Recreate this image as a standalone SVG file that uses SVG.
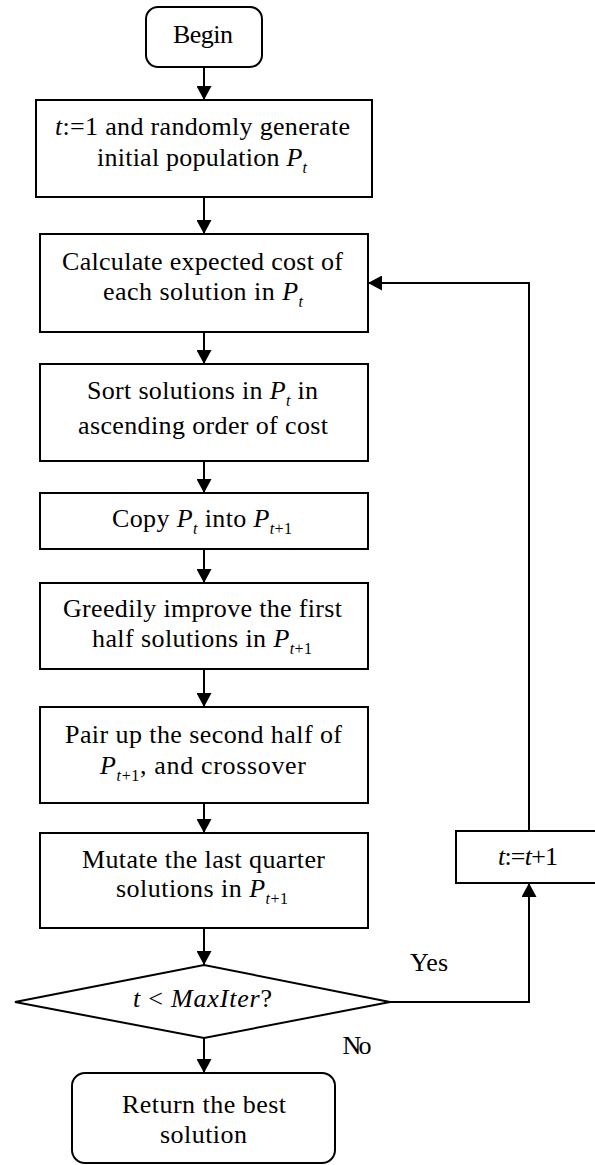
<svg xmlns="http://www.w3.org/2000/svg" width="595" height="1165" viewBox="0 0 595 1165">
  <style>
    .box { fill: #ffffff; stroke: #000000; stroke-width: 2; }
    .line { fill: none; stroke: #000000; stroke-width: 2; }
    text { font-family: "Liberation Serif", "Times New Roman", serif; font-size: 26px; fill: #000000; }
    .c { text-anchor: middle; }
    .i { font-style: italic; }
    .sub { font-size: 16px; }
  </style>
  <defs>
    <marker id="arrow" markerUnits="userSpaceOnUse" markerWidth="15" markerHeight="15" refX="14" refY="7.5" orient="auto">
      <path d="M0,0 L14,7.5 L0,15 z" fill="#000000"/>
    </marker>
  </defs>

  <rect width="595" height="1165" fill="#ffffff"/>

  <!-- connectors -->
  <g id="connectors">
    <path class="line" d="M204,67 V100" marker-end="url(#arrow)"/>
    <path class="line" d="M204,197 V234" marker-end="url(#arrow)"/>
    <path class="line" d="M204,332 V364" marker-end="url(#arrow)"/>
    <path class="line" d="M204,461 V493" marker-end="url(#arrow)"/>
    <path class="line" d="M204,549 V583" marker-end="url(#arrow)"/>
    <path class="line" d="M204,669 V707" marker-end="url(#arrow)"/>
    <path class="line" d="M204,803 V833" marker-end="url(#arrow)"/>
    <path class="line" d="M204,928 V965" marker-end="url(#arrow)"/>
    <path class="line" d="M204,1038 V1073" marker-end="url(#arrow)"/>
    <path class="line" d="M390,1002 H529 V883" marker-end="url(#arrow)"/>
    <path class="line" d="M529,831 V283 H368" marker-end="url(#arrow)"/>
    <text x="429" y="971" class="c" textLength="38">Yes</text>
    <text x="357" y="1054" class="c" textLength="29">No</text>
  </g>

  <!-- start -->
  <g id="begin">
    <rect class="box" x="146" y="7" width="116" height="60" rx="12"/>
    <text x="203" y="43" class="c" textLength="60">Begin</text>
  </g>

  <g id="init">
    <rect class="box" x="36" y="100" width="336" height="97"/>
    <text x="202.5" y="135" class="c" textLength="295"><tspan class="i">t</tspan>:=1 and randomly generate</text>
    <text x="202" y="166" class="c" textLength="210">initial population <tspan class="i">P</tspan><tspan class="i sub" dy="7">t</tspan></text>
  </g>

  <g id="evaluate">
    <rect class="box" x="40" y="234" width="328" height="98"/>
    <text x="202.5" y="270" class="c" textLength="281">Calculate expected cost of</text>
    <text x="203" y="300" class="c" textLength="200">each solution in <tspan class="i">P</tspan><tspan class="i sub" dy="7">t</tspan></text>
  </g>

  <g id="sort">
    <rect class="box" x="40" y="364" width="328" height="97"/>
    <text x="202.5" y="399" class="c" textLength="231">Sort solutions in <tspan class="i">P</tspan><tspan class="i sub" dy="7">t</tspan><tspan dy="-7"> in</tspan></text>
    <text x="203" y="434" class="c" textLength="250">ascending order of cost</text>
  </g>

  <g id="copy">
    <rect class="box" x="40" y="493" width="328" height="56"/>
    <text x="202" y="527" class="c" textLength="180">Copy <tspan class="i">P</tspan><tspan class="i sub" dy="7">t</tspan><tspan dy="-7"> into </tspan><tspan class="i">P</tspan><tspan class="sub" dy="7"><tspan class="i">t</tspan>+1</tspan></text>
  </g>

  <g id="improve">
    <rect class="box" x="40" y="583" width="328" height="86"/>
    <text x="202.5" y="617" class="c" textLength="279">Greedily improve the first</text>
    <text x="202" y="647" class="c" textLength="220">half solutions in <tspan class="i">P</tspan><tspan class="sub" dy="7"><tspan class="i">t</tspan>+1</tspan></text>
  </g>

  <g id="crossover">
    <rect class="box" x="40" y="707" width="328" height="96"/>
    <text x="203.5" y="743" class="c" textLength="277">Pair up the second half of</text>
    <text x="203" y="774" class="c" textLength="206"><tspan class="i">P</tspan><tspan class="sub" dy="7"><tspan class="i">t</tspan>+1</tspan><tspan dy="-7">, and crossover</tspan></text>
  </g>

  <g id="mutate">
    <rect class="box" x="40" y="833" width="328" height="95"/>
    <text x="203.5" y="868" class="c" textLength="243">Mutate the last quarter</text>
    <text x="202" y="897" class="c" textLength="172">solutions in <tspan class="i">P</tspan><tspan class="sub" dy="7"><tspan class="i">t</tspan>+1</tspan></text>
  </g>

  <g id="increment">
    <rect class="box" x="456" y="831" width="145" height="52"/>
    <text x="528" y="865" class="c" textLength="60"><tspan class="i">t</tspan>:=<tspan class="i">t</tspan>+1</text>
  </g>

  <g id="decision">
    <polygon class="box" points="15,1002 204,965 390,1002 204,1038"/>
    <text x="202.5" y="1007" class="c" textLength="139"><tspan class="i">t</tspan> &lt; <tspan class="i">MaxIter</tspan>?</text>
  </g>

  <!-- end -->
  <g id="finish">
    <rect class="box" x="72" y="1073" width="263" height="90" rx="13"/>
    <text x="204" y="1113" class="c" textLength="164">Return the best</text>
    <text x="203.5" y="1143" class="c" textLength="87">solution</text>
  </g>
</svg>
